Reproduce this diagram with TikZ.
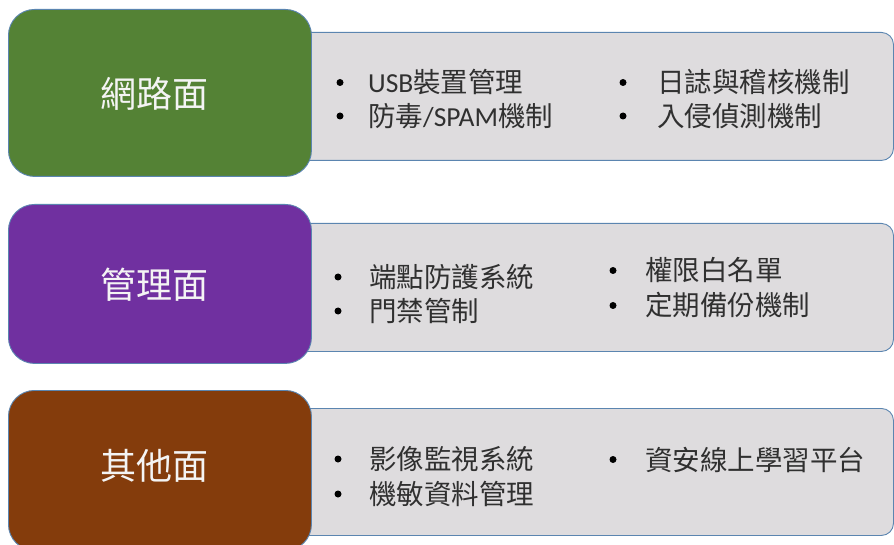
\documentclass[tikz,border=0pt]{standalone}
\usepackage{fontspec}
\setmainfont{Carlito}
\newfontfamily\cjk{Noto Sans CJK TC}
\definecolor{edgeblue}{HTML}{5B85B0}
\definecolor{panelgray}{HTML}{DEDCDE}
\definecolor{catgreen}{HTML}{548235}
\definecolor{catpurple}{HTML}{7030A0}
\definecolor{catbrown}{HTML}{843C0C}
\definecolor{titlewhite}{HTML}{F4F4F4}
\definecolor{itemtext}{HTML}{303030}
\newcommand{\zh}[1]{{\cjk #1}}
\begin{document}
\begin{tikzpicture}[x=1pt,y=-1pt,
  panel/.style={draw=edgeblue, fill=panelgray, line width=0.9pt, rounded corners=12pt,
    minimum width=603pt, anchor=north west, inner sep=0pt},
  catbox/.style={draw=edgeblue, line width=0.9pt, rounded corners=26pt,
    minimum width=303pt, anchor=north west, inner sep=0pt},
  cattitle/.style={text=titlewhite, inner sep=0pt, font=\cjk\fontsize{36}{40}\selectfont},
  item/.style={anchor=base west, inner sep=0pt, text=itemtext, font=\fontsize{27.5}{30}\selectfont},
  bul/.style={circle, fill=black, inner sep=0pt, minimum size=7pt}
]
\useasboundingbox (0,0) rectangle (894,545);

% row 1
\node[panel, minimum height=128pt] (p1) at (290,32) {};
\node[catbox, fill=catgreen, minimum height=167pt] (c1) at (8,9) {};
\node[cattitle] (t1) at (154,93.5) {網路面};
\node[bul] (b1a) at (340,82.5) {};
\node[item] (i1a) at (368,93) {USB\zh{裝置管理}};
\node[bul] (b1b) at (340,116) {};
\node[item] (i1b) at (368,126.5) {\zh{防毒}/SPAM\zh{機制}};
\node[bul] (b1c) at (623,82.5) {};
\node[item] (i1c) at (657,93) {\zh{日誌與稽核機制}};
\node[bul] (b1d) at (623,116) {};
\node[item] (i1d) at (657,126.5) {\zh{入侵偵測機制}};

% row 2
\node[panel, minimum height=128pt] (p2) at (290,223) {};
\node[catbox, fill=catpurple, minimum height=159pt] (c2) at (8,204) {};
\node[cattitle] (t2) at (154,284.5) {管理面};
\node[bul] (b2a) at (338,277) {};
\node[item] (i2a) at (369,287.5) {\zh{端點防護系統}};
\node[bul] (b2b) at (338,311) {};
\node[item] (i2b) at (369,321.5) {\zh{門禁管制}};
\node[bul] (b2c) at (613,270.5) {};
\node[item] (i2c) at (645,281) {\zh{權限白名單}};
\node[bul] (b2d) at (613,305.5) {};
\node[item] (i2d) at (645,316) {\zh{定期備份機制}};

% row 3
\node[panel, minimum height=127pt] (p3) at (290,408) {};
\node[catbox, fill=catbrown, minimum height=160pt] (c3) at (8,390) {};
\node[cattitle] (t3) at (154,465.5) {其他面};
\node[bul] (b3a) at (338,459) {};
\node[item] (i3a) at (369,469.5) {\zh{影像監視系統}};
\node[bul] (b3b) at (338,494) {};
\node[item] (i3b) at (369,504.5) {\zh{機敏資料管理}};
\node[bul] (b3c) at (613,459.5) {};
\node[item] (i3c) at (645,470) {\zh{資安線上學習平台}};
\end{tikzpicture}
\end{document}
